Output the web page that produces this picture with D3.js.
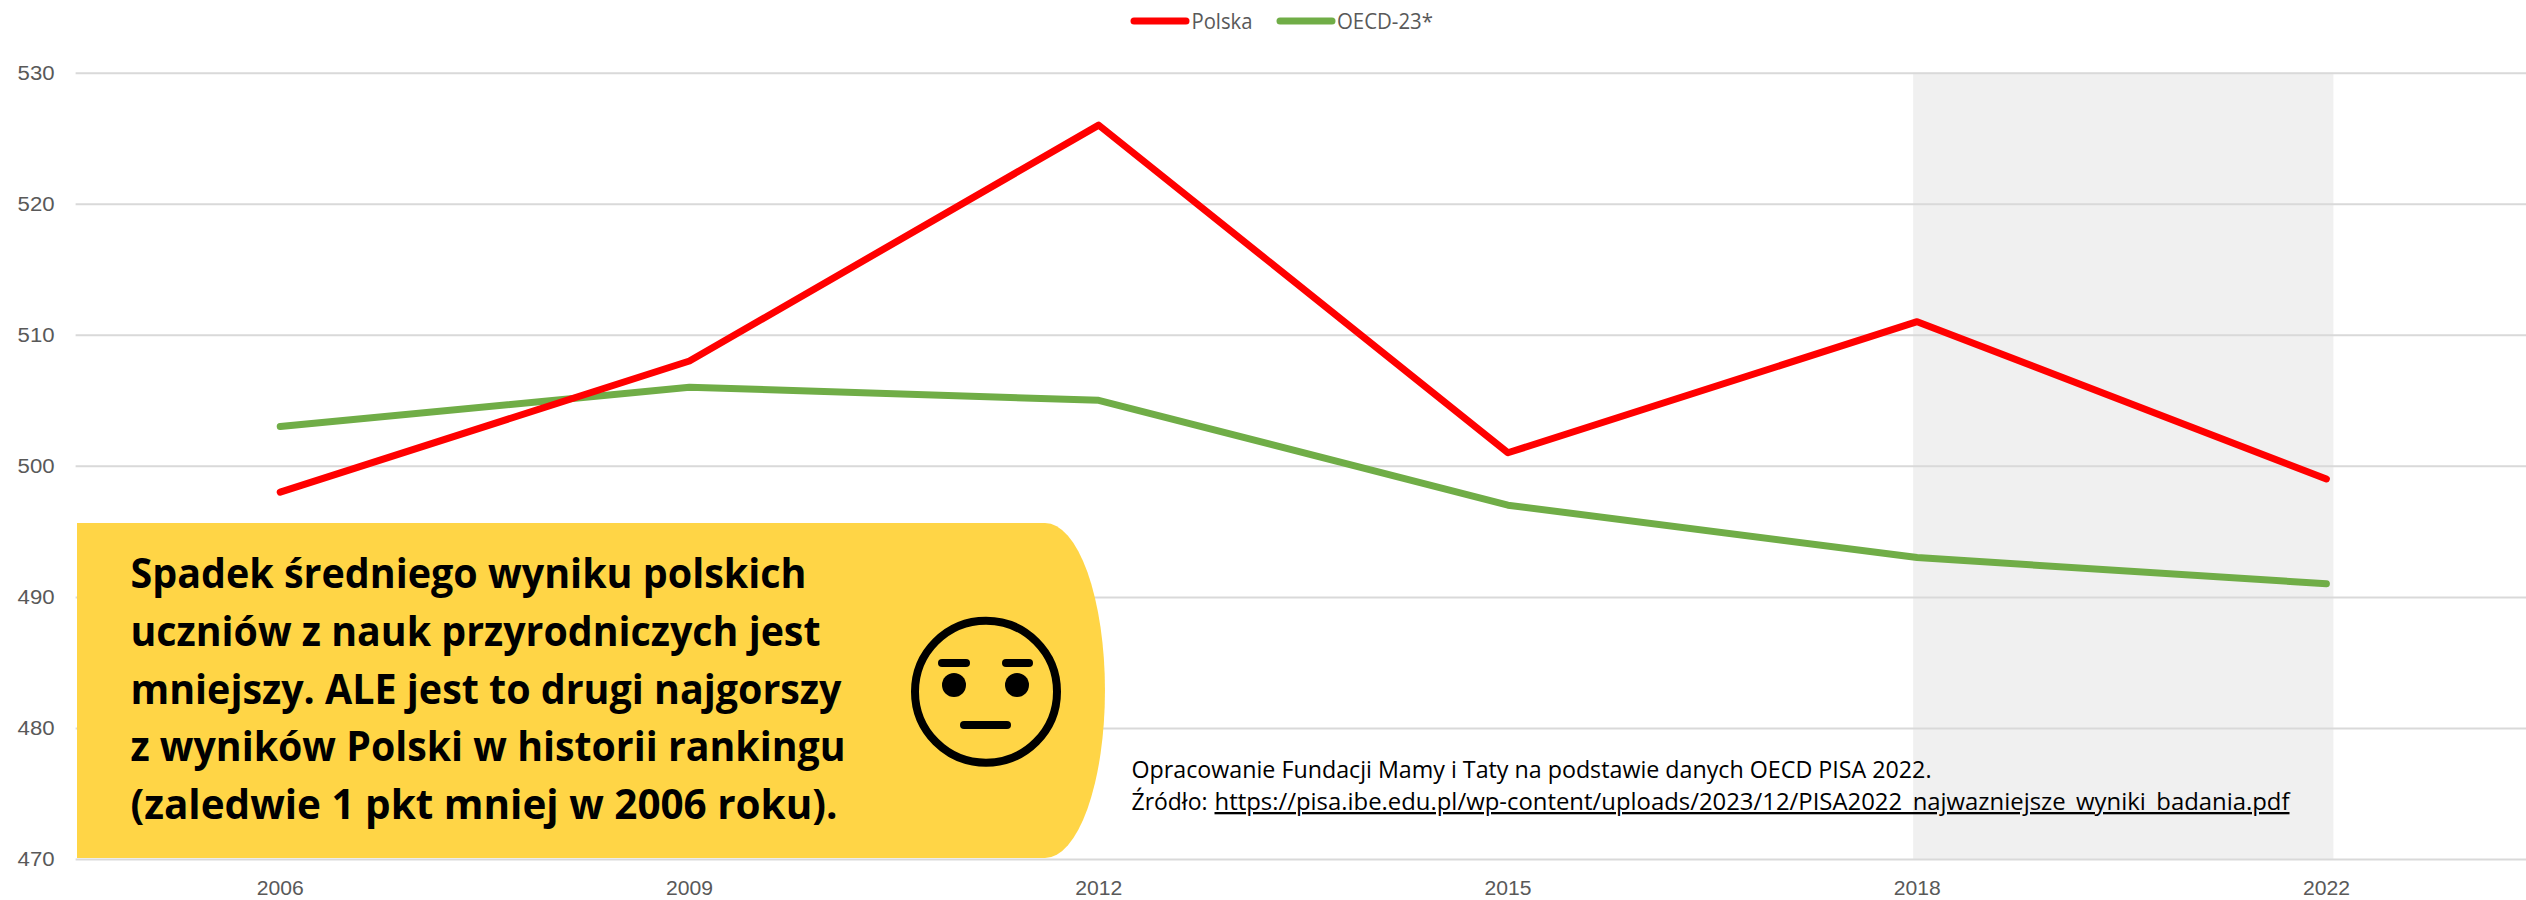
<!DOCTYPE html>
<html>
<head>
<meta charset="utf-8">
<script src="https://cdn.jsdelivr.net/npm/d3@7"></script>
<style>
html, body { margin: 0; padding: 0; background: #fff; overflow: hidden; }
text { font-family: "Open Sans", "Noto Sans", sans-serif; }
.tick text { font-family: "Liberation Sans", sans-serif; }
</style>
</head>
<body>
<svg id="svg" width="2526" height="900"></svg>
<script>
// data
const years = ["2006", "2009", "2012", "2015", "2018", "2022"];
const polska = [498, 508, 526, 501, 511, 499];
const oecd = [503, 506, 505, 497, 493, 491];
const yTicks = [470, 480, 490, 500, 510, 520, 530];
const highlighted = ["2018", "2022"];

const boxLines = [
    "Spadek średniego wyniku polskich",
    "uczniów z nauk przyrodniczych jest",
    "mniejszy. ALE jest to drugi najgorszy",
    "z wyników Polski w historii rankingu",
    "(zaledwie 1 pkt mniej w 2006 roku)."
];
const boxWidths = [676, 690, 711, 715, 707];

const grey = "#595959";
const gridColor = "#d9d9d9";

const svg = d3.select("#svg");
const x = d3.scaleBand().domain(years).range([75.6, 2531]);
const y = d3.scaleLinear().domain([470, 530]).range([859, 72.7]);
const cx = (d) => x(d) + x.bandwidth() / 2;

// squeeze a text to the width measured in the reference (Calibri is not installed)
const fit = (sel, w) => sel.attr("textLength", w).attr("lengthAdjust", "spacingAndGlyphs");

// grey band behind 2018-2022
svg.append("rect")
    .attr("x", cx(highlighted[0]) - 4)
    .attr("y", y(530))
    .attr("width", cx(highlighted[1]) - cx(highlighted[0]) + 11)
    .attr("height", y(470) - y(530))
    .attr("fill", "#f0f0f0");

// horizontal grid + y labels
const yAxis = svg.append("g")
    .attr("transform", "translate(75.6,0)")
    .call(d3.axisLeft(y).tickValues(yTicks).tickSize(-2456).tickPadding(21));
yAxis.select(".domain").remove();
yAxis.selectAll("line").attr("stroke", gridColor).attr("stroke-width", 2);
yAxis.selectAll("text")
    .attr("fill", grey)
    .style("font-size", "20px")
    .each(function() { fit(d3.select(this), 37); });

// x labels
const xAxis = svg.append("g")
    .attr("transform", "translate(0,859)")
    .call(d3.axisBottom(x).tickSize(0).tickPadding(22));
xAxis.select(".domain").remove();
xAxis.selectAll("text")
    .attr("fill", grey)
    .style("font-size", "20px")
    .each(function() { fit(d3.select(this), 47); });

// series
const line = d3.line().x((d, i) => cx(years[i])).y((d) => y(d));
const drawSeries = (values, color) => {
    svg.append("path")
        .attr("d", line(values))
        .attr("fill", "none")
        .attr("stroke", color)
        .attr("stroke-width", 7)
        .attr("stroke-linecap", "round")
        .attr("stroke-linejoin", "round");
};
drawSeries(oecd, "#70ad47");
drawSeries(polska, "#ff0000");

// legend
const legend = [
    { name: "Polska", color: "#ff0000", x1: 1134, x2: 1186, tx: 1191.5, w: 61 },
    { name: "OECD-23*", color: "#70ad47", x1: 1280, x2: 1332, tx: 1337, w: 96 }
];
legend.forEach((l) => {
    svg.append("line")
        .attr("x1", l.x1).attr("x2", l.x2).attr("y1", 21).attr("y2", 21)
        .attr("stroke", l.color).attr("stroke-width", 7).attr("stroke-linecap", "round");
    svg.append("text")
        .attr("x", l.tx).attr("y", 28.5)
        .attr("fill", grey)
        .style("font-size", "22px")
        .text(l.name)
        .call(fit, l.w);
});

// yellow box, right end is half an ellipse
svg.append("path")
    .attr("d", "M77,523 L1045,523 A60,167.5 0 0 1 1045,858 L77,858 Z")
    .attr("fill", "#ffd546");

svg.append("g").selectAll("text")
    .data(boxLines)
    .join("text")
    .attr("x", 130.5)
    .attr("y", (d, i) => 588 + i * 57.8)
    .attr("fill", "#000")
    .style("font-size", "42px")
    .style("font-weight", 700)
    .text((d) => d)
    .each(function(d, i) { fit(d3.select(this), boxWidths[i]); });

// face
const face = svg.append("g").attr("stroke", "#000").attr("stroke-width", 8).attr("stroke-linecap", "round");
face.append("circle").attr("cx", 986).attr("cy", 691.7).attr("r", 71).attr("fill", "none");
face.append("line").attr("x1", 942).attr("x2", 966).attr("y1", 663).attr("y2", 663);
face.append("line").attr("x1", 1006).attr("x2", 1029).attr("y1", 663).attr("y2", 663);
face.append("line").attr("x1", 964).attr("x2", 1007).attr("y1", 725).attr("y2", 725);
face.append("circle").attr("cx", 954).attr("cy", 685).attr("r", 12).attr("fill", "#000").attr("stroke", "none");
face.append("circle").attr("cx", 1017).attr("cy", 685).attr("r", 12).attr("fill", "#000").attr("stroke", "none");

// source note
svg.append("text")
    .attr("x", 1131.5).attr("y", 778)
    .attr("fill", "#000")
    .style("font-size", "23px")
    .text("Opracowanie Fundacji Mamy i Taty na podstawie danych OECD PISA 2022.")
    .call(fit, 800);
svg.append("text")
    .attr("x", 1131.5).attr("y", 810)
    .attr("fill", "#000")
    .style("font-size", "23px")
    .text("Źródło:")
    .call(fit, 76);
svg.append("text")
    .attr("x", 1214.5).attr("y", 810)
    .attr("fill", "#000")
    .style("font-size", "23px")
    .style("text-decoration", "underline")
    .text("https://pisa.ibe.edu.pl/wp-content/uploads/2023/12/PISA2022_najwazniejsze_wyniki_badania.pdf")
    .call(fit, 1075);
</script>
</body>
</html>
